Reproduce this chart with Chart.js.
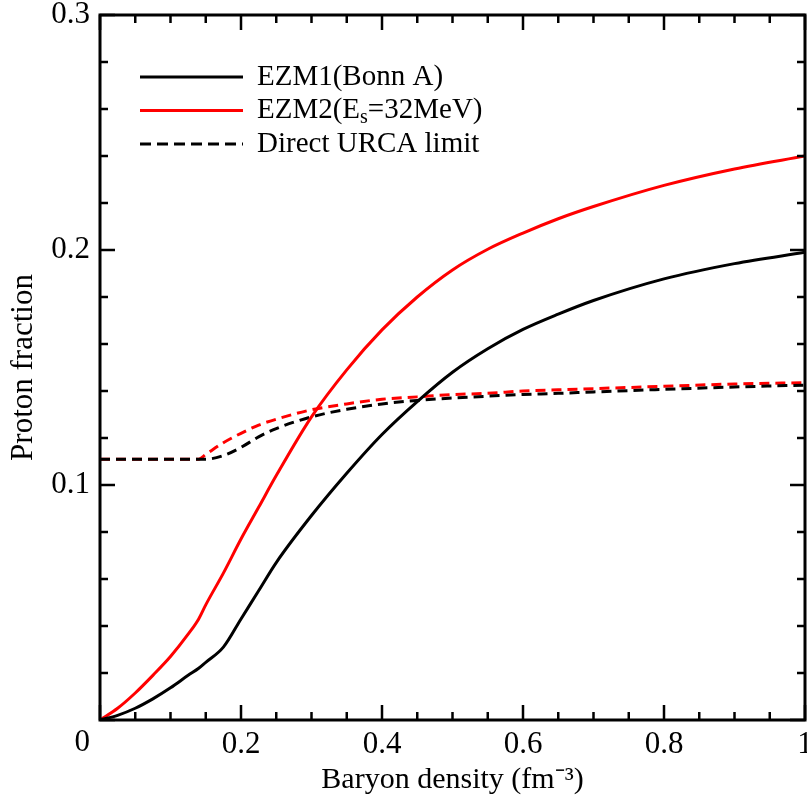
<!DOCTYPE html>
<html>
<head>
<meta charset="utf-8">
<script src="https://cdn.jsdelivr.net/npm/chart.js@4"></script>
<style>
  html, body { margin: 0; padding: 0; background: #fff; }
</style>
</head>
<body>
<canvas id="chart" width="807" height="796"></canvas>
<script>
// DATA

const density = [0, 0.025, 0.05, 0.075, 0.1, 0.125, 0.14, 0.15, 0.175, 0.2, 0.225, 0.25,
  0.3, 0.35, 0.4, 0.45, 0.5, 0.55, 0.6, 0.65, 0.7, 0.8, 0.9, 1.0];

const ezm1 = [0, 0.002, 0.005, 0.009, 0.0137, 0.019, 0.022, 0.0245, 0.031, 0.043, 0.055, 0.067,
  0.087, 0.105, 0.1215, 0.1355, 0.148, 0.158, 0.1662, 0.1727, 0.1785, 0.1877, 0.1942, 0.199];

const ezm2 = [0, 0.005, 0.0115, 0.019, 0.027, 0.0365, 0.043, 0.049, 0.0625, 0.077, 0.0905, 0.104,
  0.129, 0.149, 0.166, 0.180, 0.1915, 0.2003, 0.2072, 0.2133, 0.2185, 0.2275, 0.2345, 0.240];

const urca1 = [0.111, 0.111, 0.111, 0.111, 0.111, 0.111, 0.111, 0.111, 0.1125, 0.116, 0.1205, 0.124,
  0.129, 0.1322, 0.1345, 0.136, 0.137, 0.1378, 0.1385, 0.139, 0.1396, 0.1407, 0.1417, 0.1425];

const urca2 = [0.111, 0.111, 0.111, 0.111, 0.111, 0.111, 0.111, 0.113, 0.118, 0.122, 0.1255, 0.128,
  0.132, 0.1345, 0.1365, 0.1375, 0.1385, 0.139, 0.140, 0.1405, 0.141, 0.142, 0.143, 0.1435];

const seriesLabels = ["EZM1(Bonn A)", "EZM2(E_s=32MeV)", "Direct URCA limit", "Direct URCA limit (EZM2)"];
const legendShown = [0, 1, 2];

const xTickLabels = ["0", "0.2", "0.4", "0.6", "0.8", "1"];
const yTickLabels = ["0.1", "0.2", "0.3"];

// HELPERS

const serif = "'Liberation Serif', 'Times New Roman', serif";

function points(ys) {
  return density.map((x, i) => ({ x: x, y: ys[i] }));
}

function lineSet(label, ys, color, dash) {
  return {
    label: label,
    data: points(ys),
    borderColor: color,
    borderWidth: 3,
    borderDash: dash || [],
    pointRadius: 0,
    fill: false,
    cubicInterpolationMode: "monotone"
  };
}

// frame with inward ticks on all four sides, plus the lone "0"
const frameTicks = {
  id: "frameTicks",
  afterDatasetsDraw(chart) {
    const { ctx, chartArea: a, scales: { x, y } } = chart;
    ctx.save();
    ctx.strokeStyle = "#000";
    ctx.setLineDash([]);
    ctx.lineWidth = 2.5;
    ctx.beginPath();
    for (let i = 0; i <= 20; i++) {
      const px = x.getPixelForValue(i * 0.05);
      const len = i % 4 === 0 ? 15 : 8;
      ctx.moveTo(px, a.bottom); ctx.lineTo(px, a.bottom - len);
      ctx.moveTo(px, a.top); ctx.lineTo(px, a.top + len);
    }
    for (let i = 0; i <= 15; i++) {
      const py = y.getPixelForValue(i * 0.02);
      const len = i % 5 === 0 ? 15 : 8;
      ctx.moveTo(a.left, py); ctx.lineTo(a.left + len, py);
      ctx.moveTo(a.right, py); ctx.lineTo(a.right - len, py);
    }
    ctx.stroke();
    ctx.lineWidth = 3;
    ctx.strokeRect(a.left, a.top, a.right - a.left, a.bottom - a.top);

    ctx.fillStyle = "#000";
    ctx.font = "31px " + serif;
    ctx.textAlign = "right";
    ctx.textBaseline = "middle";
    ctx.fillText(xTickLabels[0], a.left - 10, a.bottom + 23);
    ctx.restore();
  }
};

// legend inside the plot, upper left
const innerLegend = {
  id: "innerLegend",
  afterDraw(chart) {
    const { ctx, chartArea: a } = chart;
    ctx.save();
    legendShown.forEach((di, i) => {
      const ds = chart.data.datasets[di];
      const yy = a.top + 62 + i * 33.5;
      ctx.strokeStyle = ds.borderColor;
      ctx.lineWidth = ds.borderWidth;
      ctx.setLineDash(ds.borderDash.length ? [11, 6] : []);
      ctx.beginPath();
      ctx.moveTo(a.left + 40, yy);
      ctx.lineTo(a.left + 143, yy);
      ctx.stroke();

      ctx.fillStyle = "#000";
      ctx.textAlign = "left";
      ctx.textBaseline = "middle";
      let tx = a.left + 157;
      const parts = seriesLabels[di].split(/_(\w)/);
      parts.forEach((p, k) => {
        if (k % 2 === 1) {
          ctx.font = "20px " + serif;
          ctx.fillText(p, tx, yy + 7);
        } else {
          ctx.font = "29px " + serif;
          ctx.fillText(p, tx, yy);
        }
        tx += ctx.measureText(p).width;
      });
    });
    ctx.restore();
  }
};

// CHART

new Chart(document.getElementById("chart"), {
  type: "line",
  data: {
    datasets: [
      lineSet(seriesLabels[0], ezm1, "#000000"),
      lineSet(seriesLabels[1], ezm2, "#ff0000"),
      lineSet(seriesLabels[2], urca1, "#000000", [10, 6]),
      lineSet(seriesLabels[3], urca2, "#ff0000", [10, 6])
    ]
  },
  options: {
    responsive: false,
    animation: false,
    layout: { padding: { top: 15, right: 2, left: 0, bottom: 0 } },
    plugins: {
      legend: { display: false },
      tooltip: { enabled: false }
    },
    scales: {
      x: {
        type: "linear",
        min: 0,
        max: 1,
        grid: { display: false, drawTicks: false },
        border: { display: false },
        ticks: {
          stepSize: 0.2,
          padding: 6,
          color: "#000",
          font: { family: serif, size: 31 },
          maxRotation: 0,
          callback: (v) => {
            const i = Math.round(v / 0.2);
            return i === 0 ? "" : xTickLabels[i];
          }
        },
        title: {
          display: true,
          text: "Baryon density (fm\u207B\u00B3)",
          color: "#000",
          font: { family: serif, size: 30, lineHeight: 1 },
          padding: { top: 0, bottom: 1 }
        },
        afterFit: (s) => { s.height = 76; s.paddingLeft = 0; s.paddingRight = 0; }
      },
      y: {
        type: "linear",
        min: 0,
        max: 0.3,
        grid: { display: false, drawTicks: false },
        border: { display: false },
        ticks: {
          stepSize: 0.1,
          padding: 10,
          color: "#000",
          font: { family: serif, size: 31 },
          callback: (v) => {
            const i = Math.round(v / 0.1);
            return i === 0 ? "" : yTickLabels[i - 1];
          }
        },
        title: {
          display: true,
          text: "Proton fraction",
          color: "#000",
          font: { family: serif, size: 31, lineHeight: 1 },
          padding: { top: 8, bottom: 0 }
        },
        afterFit: (s) => { s.width = 100; s.paddingTop = 0; s.paddingBottom = 0; }
      }
    }
  },
  plugins: [frameTicks, innerLegend]
});
</script>
</body>
</html>
